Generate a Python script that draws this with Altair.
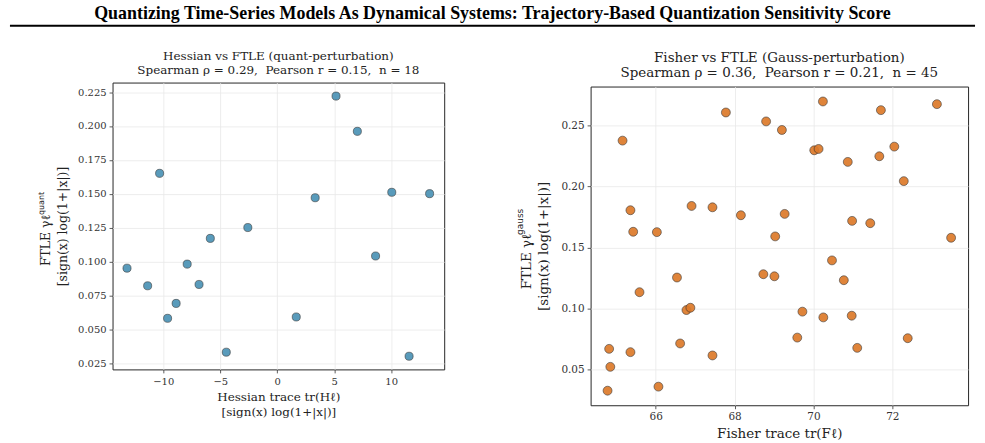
import altair as alt
import pandas as pd

TITLE = "Quantizing Time-Series Models As Dynamical Systems: Trajectory-Based Quantization Sensitivity Score"

# Left panel: Hessian trace vs FTLE (quant)
hess_x = [-10.32, 5.16, 7.03, 3.33, 10.05, 13.37, -2.58, -5.87, -13.18, -7.90,
          -11.37, -6.86, -8.87, -9.62, -4.47, 1.67, 8.63, 11.57]
ftle_q = [0.165, 0.222, 0.196, 0.147, 0.151, 0.150, 0.125, 0.117, 0.095, 0.098,
          0.082, 0.083, 0.069, 0.058, 0.033, 0.059, 0.104, 0.030]

# Right panel: Fisher trace vs FTLE (gauss)
fisher_x = [65.16, 67.78, 68.80, 69.20, 70.24, 70.02, 70.13, 70.87, 71.71, 71.67,
            72.05, 72.29, 73.13, 65.36, 66.91, 67.44, 68.16, 69.27, 70.98, 71.44,
            65.43, 66.03, 69.03, 73.49, 70.47, 66.54, 68.73, 69.01, 70.77, 65.59,
            66.78, 66.88, 69.72, 70.25, 70.97, 69.59, 72.39, 71.11, 66.62, 67.44,
            64.82, 65.36, 64.85, 64.78, 66.07]
ftle_g = [0.2373, 0.2603, 0.2530, 0.2460, 0.2693, 0.2294, 0.2305, 0.2199, 0.2622, 0.2245,
          0.2324, 0.2042, 0.2671, 0.1804, 0.1839, 0.1828, 0.1763, 0.1774, 0.1717, 0.1698,
          0.1628, 0.1625, 0.1590, 0.1579, 0.1394, 0.1254, 0.1281, 0.1264, 0.1232, 0.1134,
          0.0988, 0.1007, 0.0975, 0.0928, 0.0942, 0.0763, 0.0758, 0.0679, 0.0715, 0.0617,
          0.0671, 0.0644, 0.0524, 0.0329, 0.0362]

left_ticks_x = [-10, -5, 0, 5, 10]
left_ticks_y = [0.025, 0.050, 0.075, 0.100, 0.125, 0.150, 0.175, 0.200, 0.225]
right_ticks_x = [66, 68, 70, 72]
right_ticks_y = [0.05, 0.10, 0.15, 0.20, 0.25]

NB = "\u00a0"
ZW = "\u200b"
left_title = ["Hessian vs FTLE (quant-perturbation)",
              f"Spearman \u03c1 = 0.29,{NB} Pearson r = 0.15,{NB} n = 18"]
right_title = ["Fisher vs FTLE (Gauss-perturbation)",
               f"Spearman \u03c1 = 0.36,{NB} Pearson r = 0.21,{NB} n = 45"]

SERIF = "DejaVu Serif"
BLUE = "#4C93B6"
ORANGE = "#DD7A2A"
EDGE = "#2a2a2a"

df_l = pd.DataFrame({"x": hess_x, "y": ftle_q})
df_r = pd.DataFrame({"x": fisher_x, "y": ftle_g})

YT = ["FTLE \u03b3\u2113" + NB * 7 + ZW, "[sign(x) log(1+|x|)]"]

# ---- left panel ----
pts_l = alt.Chart(df_l).mark_circle(
    size=66, color=BLUE, stroke=EDGE, strokeWidth=0.6, opacity=0.92
).encode(
    x=alt.X("x:Q", scale=alt.Scale(domain=[-14.45, 14.65], nice=False, zero=False),
            axis=alt.Axis(values=left_ticks_x, format="d",
                          title=["Hessian trace tr(H\u2113)", "[sign(x) log(1+|x|)]"],
                          labelPadding=4, titlePadding=5, titleLineHeight=15)),
    y=alt.Y("y:Q", scale=alt.Scale(domain=[0.0203, 0.232], nice=False, zero=False),
            axis=alt.Axis(values=left_ticks_y, format=".3f", title=YT,
                          titlePadding=8, titleLineHeight=17, titleFontSize=12.5)),
)
sup_l = alt.Chart(pd.DataFrame({"t": ["quant"]})).mark_text(
    angle=270, fontSize=8, font="DejaVu Sans", align="left", baseline="alphabetic", color="#222"
).encode(text="t:N", x=alt.value(-69), y=alt.value(133))

left = alt.layer(pts_l, sup_l).properties(
    width=333, height=288,
    title=alt.Title(left_title, font=SERIF, fontSize=12, fontWeight="normal",
                    color="#222", lineHeight=14, offset=6, anchor="middle"),
)

# ---- right panel ----
pts_r = alt.Chart(df_r).mark_circle(
    size=80, color=ORANGE, stroke=EDGE, strokeWidth=0.6, opacity=0.92
).encode(
    x=alt.X("x:Q", scale=alt.Scale(domain=[64.35, 73.92], nice=False, zero=False),
            axis=alt.Axis(values=right_ticks_x, format="d",
                          title="Fisher trace tr(F\u2113)",
                          titlePadding=4, titleFontSize=13.5, labelFontSize=10.5)),
    y=alt.Y("y:Q", scale=alt.Scale(domain=[0.021, 0.2815], nice=False, zero=False),
            axis=alt.Axis(values=right_ticks_y, format=".2f", title=YT,
                          titlePadding=10, titleLineHeight=17, titleFontSize=13.5,
                          labelFontSize=10.5)),
)
sup_r = alt.Chart(pd.DataFrame({"t": ["gauss"]})).mark_text(
    angle=270, fontSize=9, font="DejaVu Sans", align="left", baseline="alphabetic", color="#222"
).encode(text="t:N", x=alt.value(-68), y=alt.value(149))

right = alt.layer(pts_r, sup_r).properties(
    width=379, height=320,
    title=alt.Title(right_title, font=SERIF, fontSize=13.5, fontWeight="normal",
                    color="#222", lineHeight=15, offset=7, anchor="middle"),
)

spacer = alt.Chart(pd.DataFrame({"a": [0]})).mark_point(opacity=0).encode(
    x=alt.value(0), y=alt.value(0)
).properties(width=379, height=1, view=alt.ViewBackground(stroke="transparent"))

right_col = alt.vconcat(spacer, right, spacing=3, bounds="flush")
body = alt.hconcat(left, right_col, spacing=147, bounds="flush")

# ---- header ----
head_text = alt.Chart(pd.DataFrame({"t": [TITLE]})).mark_text(
    font="Liberation Serif", fontSize=18, fontWeight="bold", baseline="middle", color="black"
).encode(text="t:N", x=alt.value(381.5), y=alt.value(8))
head_rule = alt.Chart(pd.DataFrame({"a": [0]})).mark_rule(color="black", strokeWidth=2).encode(
    x=alt.value(-103), x2=alt.value(866), y=alt.value(20)
)
header = alt.layer(head_text, head_rule).properties(
    width=859, height=20, view=alt.ViewBackground(stroke="transparent")
)

chart = alt.vconcat(header, body, spacing=57, bounds="flush").properties(
    padding={"left": 8, "top": 3, "right": 8, "bottom": 0}
).configure_view(
    stroke="#262626", strokeWidth=1
).configure_axis(
    labelFont=SERIF, labelFontSize=10, labelColor="#333", labelPadding=3,
    tickColor="#333", tickSize=3.5, tickWidth=0.8,
    domain=False, grid=True, gridColor="#e8e8e8", gridWidth=0.8,
    titleFont=SERIF, titleFontSize=12, titleFontWeight="normal", titleColor="#222",
)

chart.save("out.html", embed_options={"renderer": "svg", "actions": False})
